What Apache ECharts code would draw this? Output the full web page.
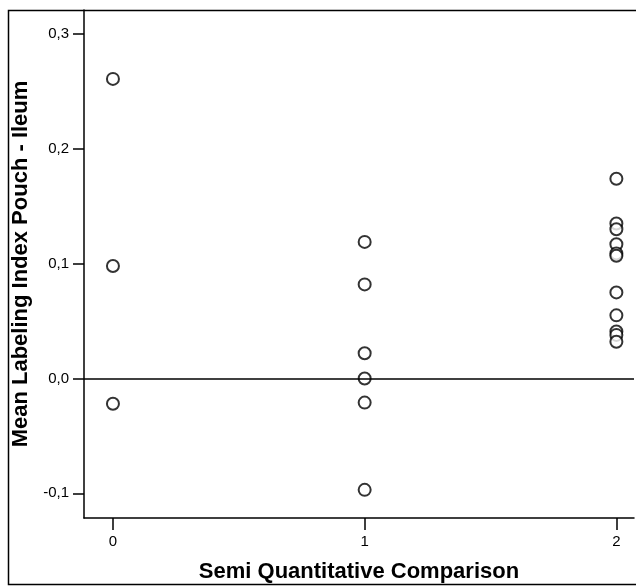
<!DOCTYPE html>
<html>
<head>
<meta charset="utf-8">
<script src="https://cdn.jsdelivr.net/npm/echarts@6/dist/echarts.min.js"></script>
<style>
    html, body { margin: 0; padding: 0; background: #fff; }
    #chart { width: 636px; height: 586px; }
</style>
</head>
<body>
<div id="chart"></div>
<script>
    // values
    var group0 = [0.261, 0.098, -0.022];
    var group1 = [0.119, 0.082, 0.022, 0.000, -0.021, -0.097];
    var group2 = [0.174, 0.135, 0.130, 0.117, 0.109, 0.107, 0.075, 0.055, 0.041, 0.038, 0.032];
    var xTicks = [0, 1, 2];
    var yTicks = [-0.1, 0, 0.1, 0.2, 0.3];

    var points = [];
    [group0, group1, group2].forEach(function (arr, i) {
        arr.forEach(function (v) {
            points.push([xTicks[i], v]);
        });
    });

    var myChart = echarts.init(document.getElementById('chart'));
    var axisText = { color: '#000', fontFamily: 'Liberation Sans, Arial', fontSize: 15 };
    var titleText = { color: '#000', fontFamily: 'Liberation Sans, Arial', fontSize: 22, fontWeight: 'bold' };
    var option = {
        animation: false,
        backgroundColor: '#fff',
        // outer frame: open on the right, as in the picture
        graphic: [{
            type: 'polyline',
            shape: { points: [[636, 10.5], [8.5, 10.5], [8.5, 584.5], [636, 584.5]] },
            style: { fill: 'none', stroke: '#000', lineWidth: 1.5 },
            silent: true
        }],
        grid: { left: 84, right: 2, top: 10, bottom: 68, outerBoundsMode: 'none', containLabel: false },
        xAxis: {
            type: 'value',
            min: -0.115,
            max: 2.07,
            name: 'Semi Quantitative Comparison',
            nameLocation: 'middle',
            nameGap: 43,
            nameTextStyle: titleText,
            axisLine: { show: true, onZero: false, lineStyle: { color: '#000', width: 1.5 } },
            axisTick: { show: true, length: 12, customValues: xTicks, lineStyle: { color: '#000', width: 1.5 } },
            axisLabel: Object.assign({ margin: 16, customValues: xTicks, formatter: function (v) { return String(v); } }, axisText),
            splitLine: { show: false }
        },
        yAxis: {
            type: 'value',
            min: -0.1215,
            max: 0.321,
            name: 'Mean Labeling Index Pouch - Ileum',
            nameLocation: 'middle',
            nameGap: 52,
            nameTextStyle: titleText,
            axisLine: { show: true, onZero: false, lineStyle: { color: '#000', width: 1.5 } },
            axisTick: { show: true, length: 11, customValues: yTicks, lineStyle: { color: '#000', width: 1.5 } },
            axisLabel: Object.assign({
                margin: 15,
                customValues: yTicks,
                formatter: function (v) { return v.toFixed(1).replace('.', ','); }
            }, axisText),
            splitLine: { show: false }
        },
        series: [{
            type: 'scatter',
            symbol: 'circle',
            symbolSize: 12,
            itemStyle: { color: '#fff', borderColor: '#000', borderWidth: 2 },
            data: points,
            markLine: {
                silent: true,
                symbol: ['none', 'none'],
                label: { show: false },
                lineStyle: { color: '#000', type: 'solid', width: 1.5 },
                data: [{ yAxis: 0 }]
            }
        }]
    };
    myChart.setOption(option);
</script>
</body>
</html>
